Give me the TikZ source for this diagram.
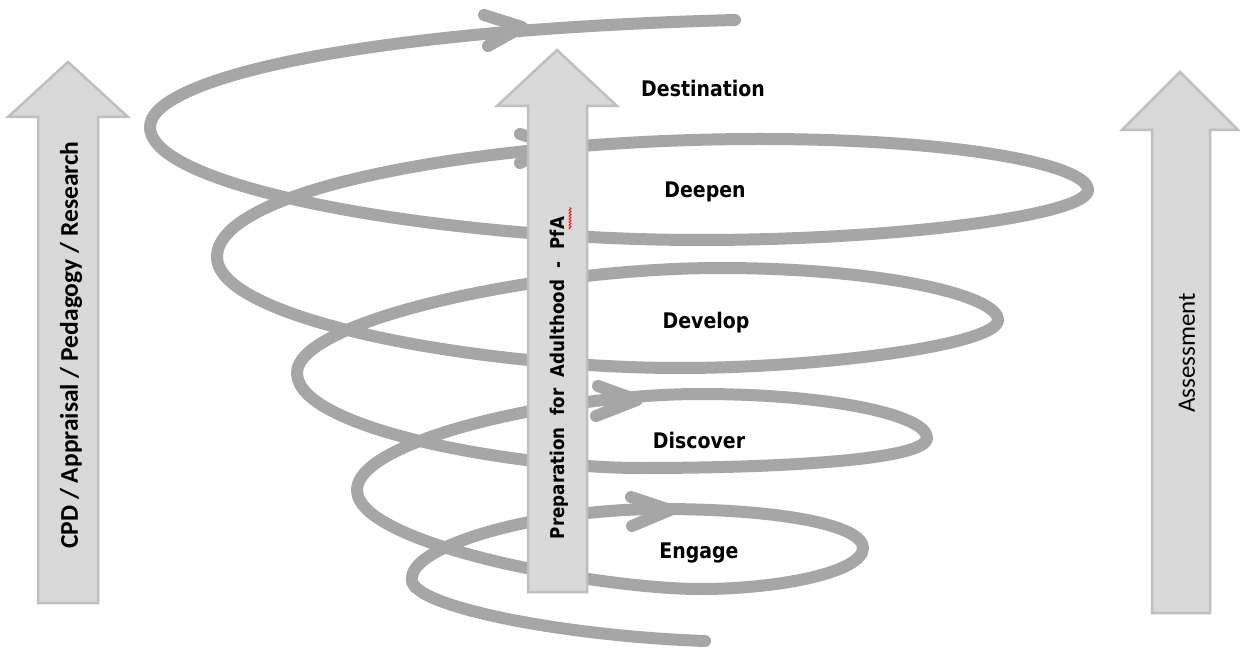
\documentclass[tikz,border=0pt]{standalone}
\usepackage{fontspec}
\setmainfont{DejaVu Sans}
\newfontfamily\labfont[FakeStretch=0.88]{DejaVu Sans}
\newfontfamily\calfont{Carlito}
\usetikzlibrary{decorations.pathmorphing}
\definecolor{spiralgray}{HTML}{A6A6A6}
\definecolor{boxfill}{HTML}{D9D9D9}
\definecolor{boxline}{HTML}{BFBFBF}
\begin{document}
\begin{tikzpicture}[x=1pt,y=-1pt,
  spiral/.style={draw=spiralgray,line width=12pt,line cap=round,line join=round},
  bigarrow/.style={fill=boxfill,draw=boxline,line width=2.5pt,line join=miter},
  lbl/.style={font=\labfont\bfseries\fontsize{21.5}{24}\selectfont,inner sep=0pt},
  vlbl/.style={rotate=90,inner sep=0pt}]
\useasboundingbox (0,0) rectangle (1240,652);
\fill[white] (0,0) rectangle (1240,652);
% spiral points
\coordinate (S) at (705,641);
\coordinate (L0) at (412,578);
\coordinate (T0) at (660,509);
\coordinate (R0) at (863,548);
\coordinate (B0) at (700,589);
\coordinate (L1) at (357,490);
\coordinate (T1) at (700,394);
\coordinate (R1) at (927,438);
\coordinate (B1) at (640,468);
\coordinate (L2) at (297,373);
\coordinate (T2) at (720,268);
\coordinate (R2) at (998,320);
\coordinate (B2) at (680,368);
\coordinate (L3) at (217,257);
\coordinate (T3) at (760,139);
\coordinate (R3) at (1088,190);
\coordinate (B3) at (700,240);
\coordinate (L4) at (150,127);
\coordinate (E) at (735,20);
\draw[spiral] (S) .. controls (560,636) and (405,605) .. (L0)
 .. controls (412,545) and (540,509) .. (T0)
 .. controls (780,509) and (863,525) .. (R0)
 .. controls (863,572) and (780,589) .. (B0)
 .. controls (600,589) and (357,545) .. (L1)
 .. controls (357,440) and (560,394) .. (T1)
 .. controls (830,394) and (927,415) .. (R1)
 .. controls (927,460) and (780,468) .. (B1)
 .. controls (520,468) and (297,430) .. (L2)
 .. controls (297,320) and (540,268) .. (T2)
 .. controls (880,268) and (998,295) .. (R2)
 .. controls (998,345) and (820,368) .. (B2)
 .. controls (480,368) and (217,320) .. (L3)
 .. controls (217,185) and (500,139) .. (T3)
 .. controls (960,139) and (1088,165) .. (R3)
 .. controls (1088,215) and (900,240) .. (B3)
 .. controls (450,240) and (150,190) .. (L4)
 .. controls (150,80) and (350,30) .. (E);
% arrowheads on the spiral
\coordinate (h1t) at (522,27);  \coordinate (h1a) at (484,15);  \coordinate (h1b) at (488,46);
\coordinate (h2t) at (556,146); \coordinate (h2a) at (520,134); \coordinate (h2b) at (520,163);
\coordinate (h3t) at (637,400); \coordinate (h3a) at (598,386); \coordinate (h3b) at (596,416);
\coordinate (h4t) at (670,510); \coordinate (h4a) at (631,497); \coordinate (h4b) at (632,526);
\draw[spiral] (h1a) -- (h1t) -- (h1b);
\draw[spiral] (h2a) -- (h2t) -- (h2b);
\draw[spiral] (h3a) -- (h3t) -- (h3b);
\draw[spiral] (h4a) -- (h4t) -- (h4b);
% block arrows
\draw[bigarrow] (68,62) -- (128,117) -- (98,117) -- (98,603) -- (38,603) -- (38,117) -- (8,117) -- cycle;
\draw[bigarrow] (557,50) -- (617,106) -- (587,106) -- (587,592) -- (528,592) -- (528,106) -- (497,106) -- cycle;
\draw[bigarrow] (1180,72) -- (1238,130) -- (1210,130) -- (1210,613) -- (1152,613) -- (1152,130) -- (1122,130) -- cycle;
% texts
\node[vlbl,font=\calfont\bfseries\fontsize{25.5}{28}\selectfont] (cpd) at (71,345) {CPD / Appraisal / Pedagogy / Research};
\node[vlbl,font=\calfont\fontsize{25}{28}\selectfont] (assess) at (1187,353) {Assessment};
\node[vlbl,font=\labfont\bfseries\fontsize{19}{22}\selectfont] (pfa) at (559,378) {Preparation\ \ for\ \ Adulthood\ \ -\ \ PfA};
\draw[red,line width=0.8pt,decorate,decoration={snake,amplitude=1pt,segment length=3pt}] (570,229) -- (570,207);
\node[lbl] (dest) at (703,88) {Destination};
\node[lbl] (deepen) at (705,192) {Deepen};
\node[lbl] (develop) at (706,323) {Develop};
\node[lbl] (discover) at (699,440) {Discover};
\node[lbl] (engage) at (699,553) {Engage};
\end{tikzpicture}
\end{document}
